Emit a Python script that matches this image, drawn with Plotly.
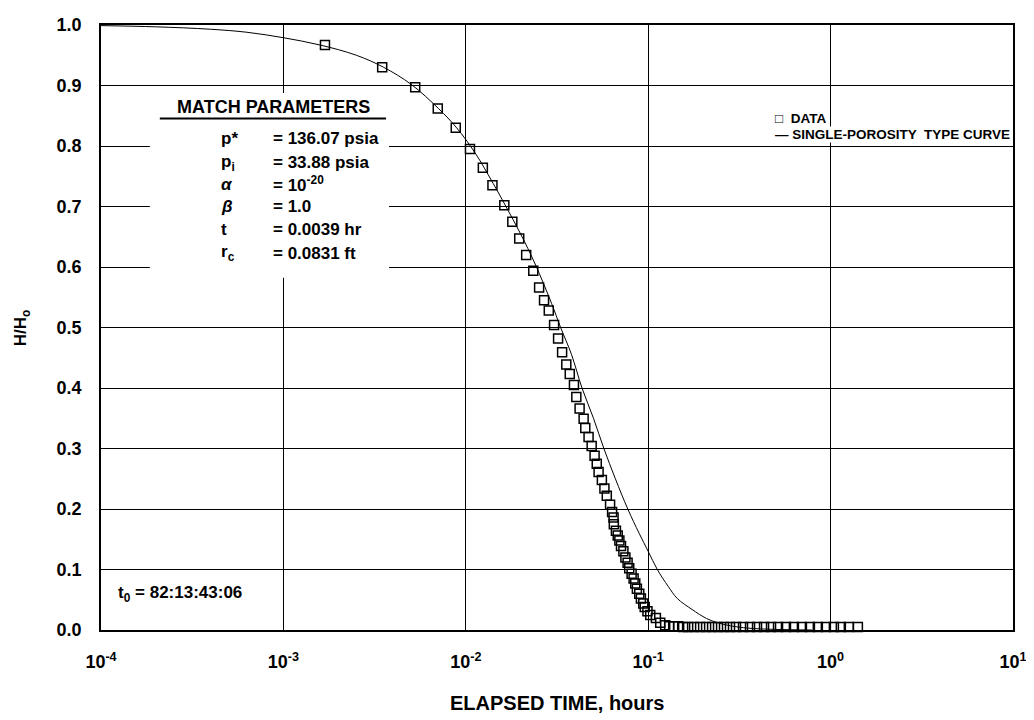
import plotly.graph_objects as go

# ---------------- data ----------------
data_t = [0.00169, 0.00348, 0.00528, 0.00702, 0.00881, 0.01054, 0.0124, 0.0140,
          0.01626, 0.01799, 0.01963, 0.02143, 0.02344, 0.02523, 0.02685,
          0.02851, 0.03048, 0.03206, 0.03373, 0.03556, 0.03715, 0.03917, 0.04036,
          0.04207, 0.04426, 0.04519, 0.04710, 0.04898, 0.05082, 0.05224, 0.05346,
          0.05572, 0.05754, 0.05929, 0.06180, 0.06339, 0.06457, 0.0648, 0.06653,
          0.06808, 0.06950, 0.07096, 0.07311, 0.07499, 0.07709, 0.07870, 0.08110,
          0.08318, 0.08492, 0.08670, 0.08933, 0.09120, 0.09397, 0.09572, 0.09908,
          0.1026, 0.1102,
          0.1164, 0.1239, 0.1303, 0.1371, 0.1459, 0.1554, 0.1656, 0.1786, 0.1926,
          0.2077, 0.2240, 0.2414, 0.2604, 0.2808, 0.3029, 0.3311, 0.3617, 0.3951,
          0.4316, 0.4714, 0.5150, 0.5692, 0.6290, 0.6962, 0.7700, 0.8511, 0.9418,
          1.042, 1.138, 1.259, 1.411]
data_h = [0.967, 0.930, 0.897, 0.862, 0.830, 0.795, 0.764, 0.735,
          0.702, 0.675, 0.647, 0.620, 0.594, 0.566, 0.545,
          0.528, 0.504, 0.482, 0.459, 0.439, 0.423, 0.405, 0.385,
          0.366, 0.349, 0.334, 0.319, 0.304, 0.288, 0.275, 0.261,
          0.248, 0.234, 0.222, 0.207, 0.195, 0.186, 0.175, 0.164,
          0.156, 0.148, 0.139, 0.130, 0.120, 0.111, 0.102, 0.093,
          0.085, 0.077, 0.068, 0.060, 0.052, 0.044, 0.038, 0.031,
          0.025, 0.020,
          0.012, 0.008, 0.006, 0.006, 0.006, 0.005, 0.005, 0.005, 0.005,
          0.005, 0.005, 0.005, 0.005, 0.005, 0.005, 0.005, 0.005, 0.005,
          0.005, 0.005, 0.005, 0.005, 0.005, 0.005, 0.005, 0.005, 0.005,
          0.005, 0.005, 0.005, 0.005]

curve_t = [0.0001, 0.0001995, 0.000398, 0.000631, 0.001, 0.001585, 0.002512,
           0.003548, 0.005012, 0.007079, 0.008913, 0.01122, 0.01413, 0.0166,
           0.01995, 0.02399, 0.02951, 0.03311, 0.03802, 0.04335, 0.05012,
           0.05715, 0.06607, 0.07727, 0.08913, 0.1, 0.1122, 0.1288, 0.1445,
           0.1738, 0.2089, 0.2399, 0.2818, 0.3548, 0.5012, 0.7943]
curve_h = [0.999, 0.997, 0.993, 0.988, 0.979, 0.967, 0.950,
           0.930, 0.902, 0.862, 0.830, 0.789, 0.738, 0.700,
           0.655, 0.605, 0.540, 0.500, 0.455, 0.400, 0.350,
           0.300, 0.250, 0.200, 0.160, 0.130, 0.100, 0.072, 0.052,
           0.034, 0.019, 0.012, 0.007, 0.003, 0.001, 0.0]

x_tickvals = [1e-4, 1e-3, 1e-2, 1e-1, 1e0, 1e1]
x_ticktext = ["10<sup>-4</sup>", "10<sup>-3</sup>", "10<sup>-2</sup>",
              "10<sup>-1</sup>", "10<sup>0</sup>", "10<sup>1</sup>"]
y_tickvals = [0.0, 0.1, 0.2, 0.3, 0.4, 0.5, 0.6, 0.7, 0.8, 0.9, 1.0]
y_ticktext = ["0.0", "0.1", "0.2", "0.3", "0.4", "0.5", "0.6", "0.7", "0.8", "0.9", "1.0"]

param_symbols = ["p*", "p<sub>i</sub>", "<i>α</i>", "<i>β</i>", "t", "r<sub>c</sub>"]
param_values = ["= 136.07 psia", "= 33.88 psia", "= 10<sup>-20</sup>", "= 1.0",
                "= 0.0039 hr", "= 0.0831 ft"]

# ---------------- figure ----------------
FONT = "Liberation Sans, Arial, Helvetica, sans-serif"
OFF = 8                      # page body margin
W, H = 1034 - OFF, 720 - OFF
X0, X1, Y0, Y1 = 101, 1016, 15, 630     # plot area in screenshot pixels
L, T = X0 - OFF, Y0 - OFF
R = W - (X1 - OFF)
B = H - (Y1 - OFF)
PW, PH = X1 - X0, Y1 - Y0


def px(x):
    return (x - X0) / PW


def py(y):
    return (Y1 - y) / PH


fig = go.Figure()

fig.add_trace(go.Scatter(
    x=curve_t, y=curve_h, mode="lines", line=dict(color="black", width=1, shape="spline"),
    showlegend=False, hoverinfo="skip"))

fig.add_trace(go.Scatter(
    x=data_t, y=data_h, mode="markers", cliponaxis=False,
    marker=dict(symbol="square-open", size=9, color="black", line=dict(width=1.5, color="black")),
    showlegend=False))

shapes = []
shapes.append(dict(type="rect", xref="paper", yref="paper", x0=px(150), x1=px(390),
                   y0=py(272), y1=py(84), fillcolor="white", line=dict(width=0), layer="above"))
shapes.append(dict(type="line", xref="paper", yref="paper", x0=px(160), x1=px(387),
                   y0=py(110), y1=py(110), line=dict(color="black", width=2)))

annotations = []
annotations.append(dict(xref="paper", yref="paper", x=px(274), y=py(98), text="<b>MATCH PARAMETERS</b>",
                        showarrow=False, xanchor="center", yanchor="middle",
                        font=dict(size=18, family=FONT, color="black")))
row_y = [130, 155, 177, 200, 223, 247]
for s, v, yy in zip(param_symbols, param_values, row_y):
    annotations.append(dict(xref="paper", yref="paper", x=px(219), y=py(yy), text="<b>" + s + "</b>",
                            showarrow=False, xanchor="left", yanchor="middle",
                            font=dict(size=17, family=FONT, color="black")))
    annotations.append(dict(xref="paper", yref="paper", x=px(272), y=py(yy), text="<b>" + v + "</b>",
                            showarrow=False, xanchor="left", yanchor="middle",
                            font=dict(size=17, family=FONT, color="black")))

annotations.append(dict(xref="paper", yref="paper", x=px(116), y=py(593),
                        text="<b>t<sub>0</sub> = 82:13:43:06</b>",
                        showarrow=False, xanchor="left", yanchor="middle",
                        font=dict(size=17, family=FONT, color="black")))

# legend
annotations.append(dict(xref="paper", yref="paper", x=px(776), y=py(110),
                        text="<b>□  DATA</b>", bgcolor="white", borderpad=0,
                        showarrow=False, xanchor="left", yanchor="middle",
                        font=dict(size=13.5, family=FONT, color="black")))
annotations.append(dict(xref="paper", yref="paper", x=px(776), y=py(126),
                        text="<b>— SINGLE-POROSITY  TYPE CURVE</b>", bgcolor="white", borderpad=0,
                        showarrow=False, xanchor="left", yanchor="middle",
                        font=dict(size=13.5, family=FONT, color="black")))

# axis titles
annotations.append(dict(xref="paper", yref="paper", x=px(558), y=py(704),
                        text="<b>ELAPSED TIME, hours</b>",
                        showarrow=False, xanchor="center", yanchor="middle",
                        font=dict(size=20, family=FONT, color="black")))
annotations.append(dict(xref="paper", yref="paper", x=px(22), y=py(323),
                        text="<b>H/H<sub>o</sub></b>", textangle=-90,
                        showarrow=False, xanchor="center", yanchor="middle",
                        font=dict(size=17, family=FONT, color="black")))

fig.update_layout(
    width=W, height=H,
    margin=dict(l=L, r=R, t=T, b=B, pad=0),
    paper_bgcolor="white", plot_bgcolor="white",
    font=dict(family=FONT, color="black"),
    shapes=shapes, annotations=annotations,
    showlegend=False,
)

fig.update_xaxes(
    type="log", range=[-4, 1],
    tickvals=x_tickvals, ticktext=x_ticktext,
    tickfont=dict(size=18, family=FONT, color="black", weight="bold"),
    showgrid=True, gridcolor="black", gridwidth=1.4,
    showline=True, linecolor="black", linewidth=1.6, mirror=True,
    ticks="", ticklabelstandoff=15, zeroline=False, ticklabeloverflow="allow",
)
fig.update_yaxes(
    range=[0, 1], tickvals=y_tickvals, ticktext=y_ticktext,
    tickfont=dict(size=18, family=FONT, color="black", weight="bold"),
    showgrid=True, gridcolor="black", gridwidth=1.4,
    showline=True, linecolor="black", linewidth=1.6, mirror=True,
    ticks="", ticklabelstandoff=14, zeroline=False, ticklabeloverflow="allow",
)

fig.write_html("out.html")
